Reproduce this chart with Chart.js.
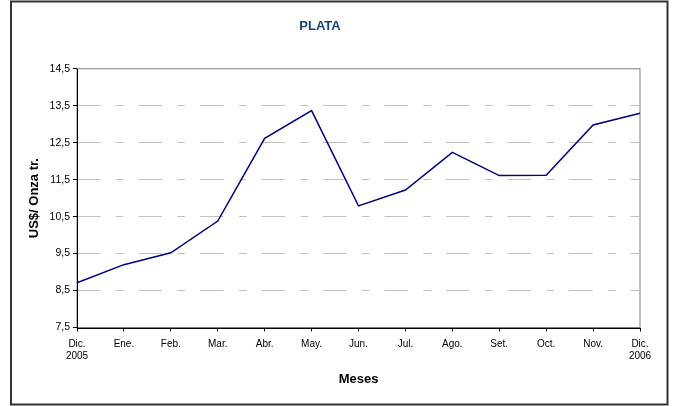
<!DOCTYPE html>
<html>
<head>
<meta charset="utf-8">
<script src="https://cdn.jsdelivr.net/npm/chart.js@4/dist/chart.umd.min.js"></script>
<style>
html,body{margin:0;padding:0;background:#fff;}
canvas{display:block;}
</style>
</head>
<body>
<canvas id="plataChart" width="675" height="406"></canvas>
<script>
const meses = [["Dic.","2005"],"Ene.","Feb.","Mar.","Abr.","May.","Jun.","Jul.","Ago.","Set.","Oct.","Nov.",["Dic.","2006"]];
const precioPlata = [8.71, 9.20, 9.52, 10.38, 12.62, 13.37, 10.79, 11.22, 12.24, 11.61, 11.62, 12.98, 13.30];
const yMin = 7.5;
const yMax = 14.5;
const yStep = 1;

// marco exterior, borde gris del area y ejes negros
const marco = {
  id: "marco",
  beforeDraw(chart){
    const ctx = chart.ctx;
    const a = chart.chartArea;
    ctx.save();
    ctx.fillStyle = "#fff";
    ctx.fillRect(0, 0, chart.width, chart.height);
    ctx.strokeStyle = "#808080";
    ctx.lineWidth = 1;
    ctx.strokeRect(a.left, a.top, a.right - a.left, a.bottom - a.top);
    ctx.restore();
  },
  afterDraw(chart){
    const ctx = chart.ctx;
    const a = chart.chartArea;
    ctx.save();
    ctx.strokeStyle = "#000";
    ctx.lineWidth = 1;
    ctx.beginPath();
    ctx.moveTo(Math.round(a.left) + 0.5, a.top);
    ctx.lineTo(Math.round(a.left) + 0.5, Math.round(a.bottom) + 0.5);
    ctx.lineTo(a.right, Math.round(a.bottom) + 0.5);
    ctx.stroke();
    ctx.strokeStyle = "#333";
    ctx.lineWidth = 2;
    ctx.strokeRect(11, 1.5, 656.5, 403);
    ctx.restore();
  }
};

new Chart(document.getElementById("plataChart"), {
  type: "line",
  data: {
    labels: meses,
    datasets: [{
      label: "Plata",
      data: precioPlata,
      borderColor: "#000080",
      borderWidth: 1.5,
      pointRadius: 0,
      tension: 0,
      fill: false
    }]
  },
  options: {
    responsive: false,
    animation: false,
    devicePixelRatio: 1,
    layout: { padding: { left: 0, right: 35, top: 0, bottom: 0 } },
    plugins: {
      legend: { display: false },
      tooltip: { enabled: false },
      title: {
        display: true,
        text: "PLATA",
        color: "#17437c",
        font: { family: "Arial, 'Liberation Sans'", size: 13, weight: "bold" },
        padding: { top: 19, bottom: 34.2 }
      }
    },
    scales: {
      x: {
        offset: false,
        afterFit(scale){ scale.height = 78.5; },
        grid: { drawOnChartArea: false, tickLength: 4, tickColor: "#000" },
        border: { display: false },
        ticks: {
          color: "#000",
          padding: 7,
          maxRotation: 0,
          autoSkip: false,
          font: { family: "Arial, 'Liberation Sans'", size: 10 }
        },
        title: {
          display: true,
          text: "Meses",
          color: "#000",
          font: { family: "Arial, 'Liberation Sans'", size: 13, weight: "bold" },
          padding: { top: 0, bottom: 19 }
        }
      },
      y: {
        min: yMin,
        max: yMax,
        afterFit(scale){ scale.width = 77; },
        grid: {
          color: ctx => (ctx.tick && (ctx.tick.value === yMin || ctx.tick.value === yMax)) ? "rgba(0,0,0,0)" : "#c0c0c0",
          tickBorderDash: [],
          tickColor: "#000",
          tickLength: 4
        },
        border: { display: false, dash: [23.5, 15.5, 7.5, 15], dashOffset: 0 },
        ticks: {
          stepSize: yStep,
          color: "#000",
          padding: 3,
          font: { family: "Arial, 'Liberation Sans'", size: 10.5 },
          callback: v => v.toFixed(1).replace(".", ",")
        },
        title: {
          display: true,
          text: "US$/ Onza tr.",
          color: "#000",
          font: { family: "Arial, 'Liberation Sans'", size: 13, weight: "bold" },
          padding: { top: 27, bottom: 0 }
        }
      }
    }
  },
  plugins: [marco]
});
</script>
</body>
</html>
